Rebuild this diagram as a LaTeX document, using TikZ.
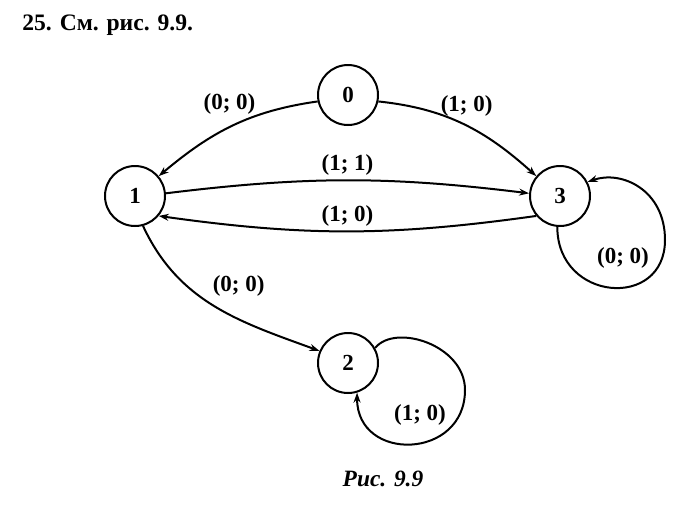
\documentclass[tikz,border=0pt]{standalone}
\usepackage{fontspec}
\setmainfont{Liberation Serif}
\usetikzlibrary{arrows.meta}

\begin{document}
\begin{tikzpicture}[x=0.5pt, y=-0.5pt,
  state/.style={draw, circle, line width=1pt, minimum size=30pt, inner sep=0pt,
    font=\bfseries\fontsize{11.5}{13}\selectfont},
  lbl/.style={font=\bfseries\fontsize{11.5}{13}\selectfont, inner sep=2pt},
  arr/.style={line width=1pt, -{Stealth[length=5pt,width=3.5pt]}}]
  % Fix the page size
  \useasboundingbox (0,0) rectangle (697,510);

  % Title and caption
  \node[anchor=base west, inner sep=0pt, font=\bfseries\fontsize{11.8}{13}\selectfont] (title) at (22,30) {25. См. рис. 9.9.};
  \node[anchor=base, inner sep=0pt, font=\bfseries\itshape\fontsize{11.7}{13}\selectfont] (caption) at (383,486) {Рис. 9.9};

  % States
  \node[state] (n0) at (348,95) {0};
  \node[state] (n1) at (135,196) {1};
  \node[state] (n3) at (560,196) {3};
  \node[state] (n2) at (348,363) {2};

  % Transitions
  \draw[arr] (n0.192) to[out=188, in=40] node[lbl, above=4pt, pos=0.52] {(0; 0)} (n1.40);
  \draw[arr] (n0.-12) to[out=-6, in=138] node[lbl, above=2pt, pos=0.52] {(1; 0)} (n3.140);
  \draw[arr] (n1.5) to[bend left=7] node[lbl, above] {(1; 1)} (n3.175);
  \draw[arr] (n3.220) to[bend left=8] node[lbl, above] {(1; 0)} (n1.-40);
  \draw[arr] (n1.-75) to[out=-65, in=160] node[lbl, above right, pos=0.46] {(0; 0)} (n2.157);

  % Loops
  \coordinate (r3) at (665,240);
  \draw[arr] (n3.-95) .. controls +(0,75) and +(0,70) .. (r3)
    .. controls +(0,-50) and +(34,-12) .. (n3.27);
  \node[lbl] (l3) at (623,258) {(0; 0)};
  \coordinate (r2) at (465,390);
  \draw[arr] (n2.29) .. controls +(20,-25) and +(0,-45) .. (r2)
    .. controls +(0,70) and +(0,70) .. (n2.-73);
  \node[lbl] (l2) at (420,415) {(1; 0)};
\end{tikzpicture}
\end{document}
